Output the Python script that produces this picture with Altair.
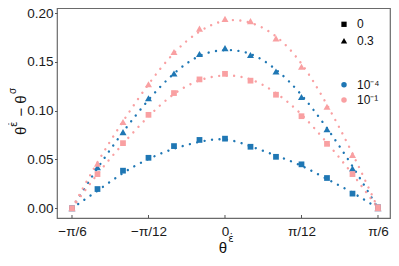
import altair as alt
import numpy as np
import pandas as pd

# ---------------- data ----------------
angles_deg = [-30, -25, -20, -15, -10, -5, 0, 5, 10, 15, 20, 25, 30]
modes = ["0", "0.3"]
rates = ["10⁻⁴", "10⁻¹"]
colors = ["#1f77b4", "#f9a0a2"]
shapes = ["square", "triangle-up"]

# markers
pts_b0 = [0.000, 0.0197, 0.0385, 0.0517, 0.0637, 0.0700, 0.0713, 0.0630, 0.0527, 0.0450, 0.0310, 0.0150, 0.001]
pts_b3 = [0.000, 0.0420, 0.0780, 0.1127, 0.1380, 0.1580, 0.1640, 0.1570, 0.1400, 0.1140, 0.0810, 0.0407, 0.000]
pts_p0 = [0.000, 0.0350, 0.0667, 0.0957, 0.1180, 0.1320, 0.1377, 0.1307, 0.1163, 0.0943, 0.0660, 0.0350, 0.001]
pts_p3 = [0.000, 0.0457, 0.0883, 0.1270, 0.1600, 0.1840, 0.1940, 0.1917, 0.1740, 0.1450, 0.1040, 0.0547, 0.000]

# dotted fitted curves
fit_b0 = [0.000, 0.0180, 0.0360, 0.0505, 0.0610, 0.0680, 0.0705, 0.0635, 0.0540, 0.0435, 0.0300, 0.0160, 0.000]
fit_b3 = [0.000, 0.0410, 0.0780, 0.1110, 0.1380, 0.1560, 0.1620, 0.1580, 0.1420, 0.1160, 0.0820, 0.0430, 0.000]
fit_p0 = [0.000, 0.0350, 0.0660, 0.0940, 0.1170, 0.1310, 0.1360, 0.1320, 0.1180, 0.0960, 0.0670, 0.0350, 0.000]
fit_p3 = [0.000, 0.0470, 0.0890, 0.1270, 0.1590, 0.1810, 0.1920, 0.1900, 0.1760, 0.1480, 0.1060, 0.0560, 0.000]

x_ticks = [-np.pi / 6, -np.pi / 12, 0.0, np.pi / 12, np.pi / 6]
x_tick_labels = ["−π/6", "−π/12", "0", "π/12", "π/6"]
y_ticks = [0.0, 0.05, 0.10, 0.15, 0.20]

series = [
    ("0", "10⁻⁴", pts_b0, fit_b0),
    ("0.3", "10⁻⁴", pts_b3, fit_b3),
    ("0", "10⁻¹", pts_p0, fit_p0),
    ("0.3", "10⁻¹", pts_p3, fit_p3),
]

theta = np.deg2rad(angles_deg)
pt_rows, fit_rows = [], []
for k, (m, r, pts, fit) in enumerate(series):
    for t, p, f in zip(theta, pts, fit):
        pt_rows.append({"theta": t, "value": p, "mode": m, "rate": r, "ord": k})
        fit_rows.append({"theta": t, "value": f, "line_rate": r, "key": f"{m}|{r}"})
df_pts = pd.DataFrame(pt_rows)
df_fit = pd.DataFrame(fit_rows)
df_ticks = pd.DataFrame({"theta": x_ticks})

# ---------------- chart ----------------
W, H = 333, 210
FONT = "Liberation Sans"
xscale = alt.Scale(domain=[-0.5749, 0.5647], nice=False, zero=False)
yscale = alt.Scale(domain=[-0.00997, 0.20513], nice=False, zero=False)

label_arr = "[" + ",".join(f"'{s}'" for s in x_tick_labels) + "]"

x_axis = alt.Axis(values=x_ticks, labelExpr=f"{label_arr}[round(datum.value*12/PI)+2]",
                  title=None, ticks=False, domain=False, grid=False,
                  labelFontSize=13.5, labelPadding=6, labelColor="#1a1a1a", labelFont=FONT)
y_axis = alt.Axis(values=y_ticks, format=".2f", title=None, domain=False, grid=False,
                  tickSize=2.5, tickColor="#555", labelPadding=1.5,
                  labelFontSize=13.5, labelColor="#1a1a1a", labelFont=FONT)

lines = alt.Chart(df_fit).mark_line(
    strokeDash=[0.01, 7.5], strokeCap="round", strokeWidth=2.4, interpolate="natural"
).encode(
    x=alt.X("theta:Q", scale=xscale, axis=x_axis),
    y=alt.Y("value:Q", scale=yscale, axis=y_axis),
    stroke=alt.Stroke("line_rate:N", scale=alt.Scale(domain=rates, range=colors), legend=None),
    detail="key:N",
)

points = alt.Chart(df_pts).mark_point(filled=True, opacity=1).encode(
    x=alt.X("theta:Q", scale=xscale),
    y=alt.Y("value:Q", scale=yscale),
    shape=alt.Shape("mode:N", scale=alt.Scale(domain=modes, range=shapes), legend=None),
    color=alt.Color("rate:N", scale=alt.Scale(domain=rates, range=colors), legend=None),
    size=alt.Size("mode:N", scale=alt.Scale(domain=modes, range=[33, 49]), legend=None),
    order=alt.Order("ord:Q"),
)

xticks_in = alt.Chart(df_ticks).mark_rule(color="#555", strokeWidth=1).encode(
    x=alt.X("theta:Q", scale=xscale), y=alt.value(H - 3), y2=alt.value(H)
)

one = pd.DataFrame({"k": [0]})


def label(txt, x, y, size, angle=0, font=FONT, align="center", baseline="alphabetic"):
    kw = dict(text=txt, fontSize=size, font=font, color="#111", align=align,
              baseline=baseline)
    if angle:
        kw["angle"] = angle
    return alt.Chart(one).mark_text(**kw).encode(x=alt.value(x), y=alt.value(y))


def symbol(shape, color, size, x, y):
    return alt.Chart(one).mark_point(filled=True, opacity=1, shape=shape, color=color,
                                     size=size, strokeWidth=0).encode(
        x=alt.value(x), y=alt.value(y))


# legend (two groups, no titles)
legend = []
leg_sym_x, leg_lab_x = 287, 300
for i, (m, shp, sz) in enumerate(zip(modes, shapes, [28, 40])):
    yy = 16.3 + i * 16.4
    legend.append(symbol(shp, "black", sz, leg_sym_x, yy))
    legend.append(label(m, leg_lab_x, yy, 12, align="left", baseline="middle"))
for i, (r, c) in enumerate(zip(rates, colors)):
    yy = 76.7 + i * 15.3
    legend.append(symbol("circle", c, 30, leg_sym_x, yy))
    legend.append(label(r, leg_lab_x, yy, 12, align="left", baseline="middle"))

titles = [
    # y title: θ^ε̇ − θ^σ (rotated)
    label("θ", -31, 122.9, 15, 270),
    label("ε̇", -40.5, 116.2, 10, 270, "DejaVu Sans"),
    label("−", -31, 104.2, 15, 270),
    label("θ", -31, 91.5, 15, 270),
    label("σ", -41.5, 82.8, 10, 270),
    # x title: θ^ε̇
    label("θ", 165.8, 244.5, 15),
    label("ε̇", 174, 233.5, 10, 0, "DejaVu Sans"),
]

chart = alt.layer(lines, points, xticks_in, *legend, *titles).properties(
    width=W, height=H,
    autosize=alt.AutoSizeParams(type="none"),
    padding={"left": 49, "top": 0, "right": 1, "bottom": 36},
).configure_view(stroke="#6a6a6a", strokeWidth=1.2)

chart.save("out.html", embed_options={"renderer": "svg", "actions": False})
